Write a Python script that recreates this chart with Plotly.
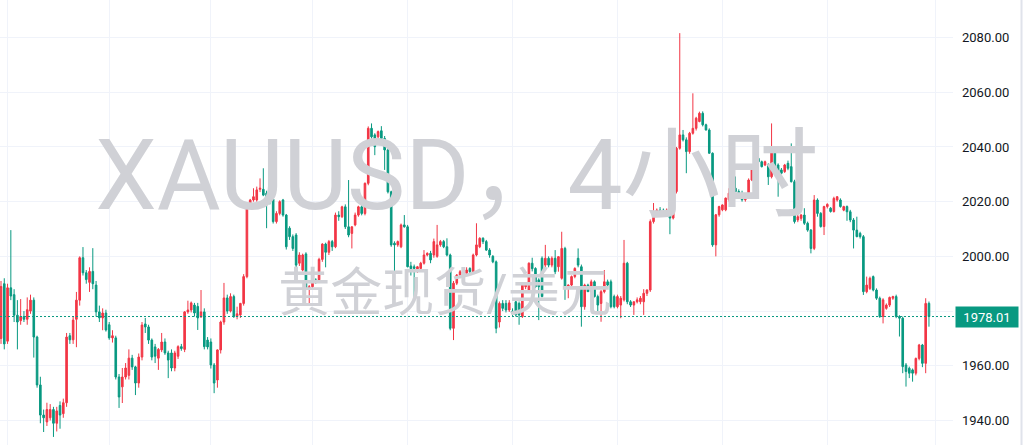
import plotly.graph_objects as go

# ---------------- data (XAUUSD 4h candles) ----------------
open_ = [
    1970, 1990, 1969, 1988.5, 1986, 1978.5, 1976.5, 1978, 1977, 1980,
    1984, 1970.5, 1953, 1942, 1939.5, 1941, 1944, 1939, 1945.5, 1942.5,
    1946.5, 1971, 1969.5, 1977, 1984, 1999.5, 1994, 1990.5, 1994.5, 1989.5,
    1979.7, 1977.5, 1979.3, 1975, 1970.2, 1970.2, 1955.9, 1952.3, 1955.9, 1956.5,
    1962.8, 1959.6, 1953.7, 1963.2, 1975.3, 1974.2, 1969.4, 1966.9, 1962.8, 1965.8,
    1968.7, 1964.7, 1964.7, 1959.2, 1963.5, 1967, 1966, 1979.7, 1980.4, 1982.2,
    1981.7, 1977.9, 1979.7, 1969.4, 1968.7, 1960.3, 1954.8, 1965.8, 1976, 1984.8,
    1980, 1985.3, 1978, 1978.6, 1982.8, 1992.6, 2018.1, 2020.6, 2020.6, 2024.5,
    2024.5, 2023.1, 2021.8, 2020.9, 2012.7, 2015.7, 2020.6, 2015.1, 2010.3, 2007.2,
    2007.8, 1997.5, 1995, 2000.9, 1988.3, 1988.9, 1991.4, 1991.4, 1998.9, 2004.5,
    2001.5, 2005.4, 2003.5, 2015.1, 2014.5, 2018.1, 2010.8, 2008.4, 2011.5, 2015.1,
    2018.1, 2015.7, 2026.7, 2046.8, 2044.4, 2043.7, 2045.9, 2043.1, 2038.9, 2023.6,
    2004.8, 2004.2, 2003.5, 2011.5, 2010.8, 1996.5, 1996.2, 1995, 1995.6, 1997.5,
    2000.5, 2001.1, 2000.5, 2000, 2004.2, 2005.4, 2003.5, 2000.5, 1973.7, 1990.2,
    1993.2, 1994.4, 1993.8, 1995.6, 1994.4, 2000.5, 2003.5, 2006.6, 2005.4, 2002.3,
    2000, 1998, 1976, 1982.8, 1982.8, 1980.4, 1980, 1983.4, 1982.8, 1978,
    1988.9, 1987.7, 1997.5, 1995.6, 1991.4, 1999.3, 1996.8, 1999.3, 1996.8, 1999.3,
    1996.2, 1992, 2002.9, 1988.3, 1989.5, 1992.6, 1999.3, 1996.2, 1981.6, 1989.5,
    1987.1, 1990.7, 1985.3, 1982.8, 1987.1, 1990.7, 1990.7, 1985.3, 1981.6, 1982.2,
    1984.1, 1997.5, 1983.4, 1982.2, 1983.4, 1983.4, 1983.4, 1986.5, 1987.7, 2012.7,
    2016.2, 2016.9, 2016.9, 2015.1, 2016.9, 2014, 2023.7, 2039.5, 2044.4, 2042.6,
    2038.3, 2045, 2046.8, 2049.3, 2052.3, 2048.1, 2046.2, 2037.7, 2004.2, 2015.2,
    2017, 2017, 2020.7, 2023.1, 2024.9, 2023.7, 2023.1, 2020.7, 2022.4, 2027.9,
    2032.8, 2035.8, 2034.6, 2033.4, 2033.4, 2029.1, 2038.3, 2033.4, 2031.6, 2031,
    2034, 2032.8, 2027.3, 2013.3, 2013.9, 2015.1, 2012.1, 2009.6, 2002.9, 2020.6,
    2015.7, 2010.9, 2018.2, 2017.6, 2016.4, 2020.6, 2020.6, 2016.9, 2018.2, 2016.3,
    2013.3, 2009.6, 2008.4, 2007.2, 1987.1, 1988.3, 1992.6, 1987.7, 1984.7, 1978,
    1981, 1982.2, 1984.7, 1985.3, 1978, 1977.4, 1960.3, 1959.1, 1958.5, 1957.3,
    1962.7, 1967.6, 1960.9, 1982.8,
]
high = [
    1991, 1992, 1990, 2009.6, 1988, 1984, 1984.4, 1980, 1985, 1986,
    1985, 1971, 1956, 1944, 1946.5, 1946, 1945, 1945, 1947, 1948,
    1972, 1972, 1978, 1987, 2000, 2003.4, 1995, 1996, 2003, 1991,
    1982, 1981, 1980.5, 1976, 1973, 1971, 1957, 1959.2, 1961, 1966,
    1964, 1960, 1964.5, 1976, 1977.5, 1975, 1970, 1968, 1966.5, 1972,
    1970, 1965.5, 1966, 1965.5, 1967.5, 1968, 1980, 1983.8, 1983.5, 1983,
    1983, 1987.7, 1981, 1970.5, 1970, 1961, 1966, 1976.5, 1990.3, 1986,
    1986.5, 1986, 1981.6, 1983, 1993.5, 2018.5, 2021, 2024.9, 2025.5, 2028.5,
    2032.2, 2024, 2022.5, 2021.5, 2016.5, 2020.5, 2021, 2015.5, 2011, 2008,
    2008.5, 2001.5, 2001, 2001.5, 1989.5, 1992, 1992, 1999.5, 2004.8, 2005,
    2006, 2006, 2016, 2016.5, 2018.5, 2019, 2027.9, 2011, 2016, 2018.5,
    2019, 2027, 2047.5, 2048.6, 2045, 2046, 2047.6, 2044, 2039.5, 2024,
    2005.5, 2005.8, 2012, 2015.1, 2011.5, 1998, 1997, 1996.5, 1998, 2002.3,
    2001.5, 2002, 2006.5, 2011.5, 2006, 2006, 2006.6, 2001, 1991, 1993.5,
    1995, 1995.5, 1996, 1996, 2001, 2012.1, 2007, 2007, 2006, 2003,
    2000.5, 1998.5, 1983.5, 1984, 1984, 1984, 1981, 1984, 1983.5, 1990,
    1990, 1997.8, 1999.5, 1996, 1992, 2000, 2004.2, 2000, 2000, 2002.3,
    2000, 2009, 2003.5, 1989.8, 1993, 1996, 2002.9, 1997, 1990, 1990,
    1991.5, 1991.2, 1986, 1987.7, 1995, 1991.5, 1991.5, 1986, 1986, 1985.5,
    2006, 1998, 1984, 1983.5, 1985, 1985.5, 1988, 1988, 2013.5, 2019.5,
    2017.5, 2018, 2017.5, 2017.5, 2017.5, 2024.5, 2040, 2081.6, 2046.2, 2043.5,
    2045.5, 2059.6, 2051, 2052.9, 2053, 2048.5, 2046.8, 2038, 2015.5, 2018.5,
    2019, 2021.5, 2024.9, 2025.5, 2029.2, 2024.5, 2024, 2023, 2028.5, 2033.3,
    2036.2, 2038.3, 2035, 2035, 2034, 2048.6, 2039, 2034, 2032.3, 2033.8,
    2035, 2041.3, 2028, 2021.8, 2015.5, 2017.6, 2012.7, 2010, 2022.4, 2021.2,
    2016.2, 2018.5, 2019.4, 2018, 2021.8, 2022, 2021.2, 2018.5, 2018.6, 2017,
    2014, 2014.5, 2009, 2007.8, 1992.6, 1992.6, 1993, 1988.3, 1985.3, 1984.7,
    1982.8, 1985.3, 1985.6, 1986, 1978.5, 1978, 1961, 1959.7, 1959, 1963,
    1968, 1968, 1984.7, 1983.5,
]
low = [
    1968, 1966, 1968, 1984, 1976, 1966, 1975, 1976, 1975, 1979,
    1963, 1952, 1939, 1935.8, 1938, 1940, 1934, 1936, 1937, 1941,
    1945, 1968, 1968, 1966.8, 1982, 1993, 1990, 1987, 1988, 1978,
    1976, 1973, 1972.5, 1969.5, 1968.5, 1955, 1944.6, 1946.4, 1955, 1955,
    1958.5, 1949.3, 1952, 1962, 1972, 1968, 1962, 1961, 1958.5, 1965,
    1964, 1955.5, 1958, 1958, 1962.5, 1965.5, 1965, 1979, 1979.5, 1978,
    1973.1, 1977.5, 1966, 1966, 1959, 1950, 1952, 1964.5, 1975, 1979,
    1979.5, 1977.5, 1977, 1977.5, 1982, 1992, 2017.5, 2020, 2020, 2023.5,
    2022, 2010.3, 2019, 2012, 2012, 2015, 2014.5, 2002.5, 2006, 2002,
    1996, 1996.5, 1994.5, 1988, 1982.2, 1988, 1990, 1990.5, 1998, 1996,
    2000.5, 2002, 2003, 2013, 2014, 2010, 2007, 2002.9, 2011, 2014.5,
    2015, 2015, 2026, 2043, 2037, 2043, 2042.5, 2031.6, 2023, 2003.5,
    1992.6, 2003.5, 2003, 2010.5, 1996, 1993, 1984.7, 1994, 1995, 1997,
    2000, 1997.5, 1999.5, 1999.5, 2003.5, 2003, 2000, 1973, 1969.4, 1989.5,
    1992.5, 1993, 1993, 1993.5, 1994, 2000, 2003, 2004.5, 2002, 1999.5,
    1997.5, 1971.9, 1974, 1980, 1979.5, 1979.7, 1978, 1978, 1975, 1977.5,
    1988, 1987, 1994.5, 1988.5, 1976.7, 1985, 1996, 1996, 1996, 1993.5,
    1994.4, 1991.5, 1984.1, 1984.7, 1989, 1992, 1996, 1974.3, 1980.5, 1987,
    1986.5, 1985, 1979.7, 1976.1, 1986.5, 1988.5, 1981, 1981, 1981, 1977.4,
    1983.5, 1982.5, 1981.5, 1978.6, 1982.8, 1982.5, 1978.6, 1985.5, 1987, 2012,
    2015.5, 2015, 2014.5, 2014.5, 2008.1, 2013.5, 2023, 2039, 2042, 2030.4,
    2037.5, 2044.5, 2046, 2049, 2047.5, 2046, 2037.5, 2003.5, 2000, 2014.5,
    2016.5, 2016.5, 2020, 2022.5, 2023.5, 2021, 2020, 2020, 2022, 2027.5,
    2032.3, 2034, 2032.5, 2033, 2026.1, 2028.5, 2031.5, 2021.8, 2030, 2030.5,
    2031.5, 2027, 2012, 2012.5, 2013, 2011.5, 2009, 2001.1, 2002.3, 2014.5,
    2010.5, 2007.8, 2017.5, 2016, 2016, 2020, 2017.8, 2016.5, 2013, 2012.5,
    2002.9, 2007, 2006.5, 1985.9, 1986.5, 1987.7, 1987.2, 1984.1, 1977.5, 1975.5,
    1980.5, 1981.5, 1984.1, 1977.4, 1970.7, 1957.3, 1952.4, 1955.5, 1954.2, 1956.5,
    1962, 1959.5, 1957.3, 1974.3,
]
close = [
    1989, 1968, 1988.5, 1985.5, 1978.5, 1976, 1978, 1977, 1980.5, 1984,
    1970.5, 1953, 1942, 1941, 1944, 1944, 1939, 1943.5, 1942, 1946.5,
    1970.5, 1969.5, 1976.7, 1984, 1999.5, 1994, 1991.5, 1994.5, 1990, 1979.7,
    1977.5, 1979.3, 1973.1, 1970.2, 1971, 1955.9, 1948.6, 1955.9, 1959.2, 1962.8,
    1959.6, 1953.7, 1963.2, 1974.9, 1974.2, 1969.4, 1963.2, 1963.5, 1966, 1968.7,
    1964.7, 1962.1, 1959.2, 1964.7, 1967, 1966.3, 1979.7, 1980.4, 1983, 1979.3,
    1977.5, 1979.7, 1967, 1966.9, 1960.3, 1953.7, 1965.8, 1976, 1984.8, 1980,
    1985.3, 1978, 1979, 1982.8, 1992.6, 2018.1, 2020.6, 2021.8, 2024.3, 2024.9,
    2022.4, 2021.2, 2020.6, 2012.7, 2015.7, 2020, 2015.1, 2003.5, 2007.2, 2002.9,
    1996.8, 2000.5, 2000.5, 1988.3, 1988.9, 1991.4, 1990.8, 1998.9, 2004.5, 2001.5,
    2005.4, 2003.5, 2015.1, 2014.5, 2018.1, 2010.8, 2007.8, 2010.8, 2015.1, 2018.1,
    2015.7, 2026.7, 2046.8, 2043.7, 2040.1, 2045.6, 2043.1, 2038.9, 2023.6, 2004.2,
    2004.2, 2005.4, 2011.5, 2010.8, 1996.2, 1995.5, 1995.6, 1996.2, 1997.5, 2000.5,
    2001.1, 1998.7, 2005.4, 2004.2, 2005.4, 2003.5, 2000.5, 1973.7, 1990.2, 1993.2,
    1994.4, 1993.8, 1995, 1994.4, 2000.5, 2004.2, 2006.6, 2005.4, 2002.3, 2000.5,
    1998, 1973.7, 1982.8, 1981, 1980.4, 1983, 1979, 1978.6, 1978.6, 1989.5,
    1989.5, 1997.5, 1995.5, 1988.9, 1988.9, 1985.3, 1999.3, 1996.8, 1999.3, 1994.4,
    1999.9, 2002.9, 1988.3, 1989.5, 1992.6, 1995.6, 1996.8, 1981.6, 1989.5, 1987.1,
    1990.7, 1985.3, 1982.2, 1987.1, 1990.7, 1989.5, 1981.6, 1981.6, 1985.3, 1984.7,
    1997.5, 1983.4, 1982.2, 1983.4, 1984.1, 1984.7, 1986.5, 1987.7, 2012.7, 2016.2,
    2016.9, 2015.3, 2015.1, 2016.9, 2014, 2023.7, 2039.5, 2044.4, 2042.6, 2038.3,
    2045, 2046.8, 2050.5, 2052.3, 2048.1, 2046.2, 2037.7, 2004.2, 2015.2, 2018.2,
    2018.8, 2021.3, 2023.1, 2024.9, 2023.7, 2021.3, 2020.7, 2022.4, 2027.9, 2032.8,
    2035.8, 2034.6, 2032.8, 2034.6, 2029.1, 2038.3, 2032.2, 2030.4, 2030.4, 2033.4,
    2032.2, 2027.3, 2012.7, 2014.5, 2015.1, 2012.1, 2009.6, 2002.9, 2020.6, 2015.7,
    2010.9, 2018.2, 2019, 2016.4, 2021.2, 2021.8, 2018.2, 2018.2, 2016.3, 2013.3,
    2009.6, 2007.2, 2007.2, 1987.1, 1989.5, 1992, 1987.7, 1984.7, 1978, 1984.1,
    1982.2, 1985, 1985.3, 1978, 1977.4, 1959.7, 1957.9, 1957.3, 1957.3, 1962.7,
    1967.6, 1960.9, 1982.8, 1978.01,
]

y_ticks = [1940, 1960, 1980, 2000, 2020, 2040, 2060, 2080]
y_tick_labels = ["1940.00", "1960.00", "1980.00", "2000.00", "2020.00", "2040.00", "2060.00", "2080.00"]
grid_x = [2, 33, 64, 95, 124, 156, 188, 220, 252, 285]   # candle indices of vertical grid lines
last_price = 1978.01
last_price_label = "1978.01"
watermark = ["XAUUSD，4小时", "黄金现货/美元"]

# ---------------- style ----------------
UP = "#F23645"      # rising candles (red, Chinese convention)
DOWN = "#089981"    # falling candles (green)
GRID = "#f0f3fa"
WM_COLOR = "#d0d1d6"
X_RANGE = [-0.305, 290.33]
Y_RANGE = [1931.05, 2093.71]

idx = list(range(len(close)))

# watermark placed in paper fractions, converted to data coordinates
wm_fx = [0.4795, 0.467]
wm_fy = [0.586, 0.33]
wm_x = [X_RANGE[0] + f * (X_RANGE[1] - X_RANGE[0]) for f in wm_fx]
wm_y = [Y_RANGE[0] + f * (Y_RANGE[1] - Y_RANGE[0]) for f in wm_fy]

fig = go.Figure()
fig.add_trace(go.Scatter(
    x=wm_x, y=wm_y, mode="text", text=watermark,
    textposition="middle center",
    textfont=dict(family="Roboto, 'Noto Sans CJK SC', sans-serif", size=[98, 52], color=WM_COLOR),
    hoverinfo="skip", showlegend=False, cliponaxis=False,
))
fig.add_trace(go.Candlestick(
    x=idx, open=open_, high=high, low=low, close=close,
    increasing=dict(line=dict(color=UP, width=1), fillcolor=UP),
    decreasing=dict(line=dict(color=DOWN, width=1), fillcolor=DOWN),
    whiskerwidth=0, hoverinfo="skip", showlegend=False,
))

fig.update_layout(
    width=1024, height=445,
    margin=dict(l=0, r=71, t=0, b=0),
    paper_bgcolor="white", plot_bgcolor="white",
    showlegend=False, hovermode=False,
    xaxis=dict(
        range=X_RANGE, rangeslider=dict(visible=False),
        showticklabels=False, tickmode="array", tickvals=grid_x,
        showgrid=True, gridcolor=GRID, gridwidth=1,
        zeroline=False, showline=False, ticks="", fixedrange=True,
    ),
    yaxis=dict(
        side="right", range=Y_RANGE, tickmode="array",
        tickvals=y_ticks, ticktext=y_tick_labels,
        showgrid=True, gridcolor=GRID, gridwidth=1,
        zeroline=False, showline=False, ticks="",
        tickfont=dict(family="Roboto, sans-serif", size=13, color="#131722"),
        ticklabelstandoff=8, automargin=False, fixedrange=True,
    ),
    shapes=[
        dict(type="line", xref="paper", yref="y", x0=0, x1=1.003,
             y0=last_price, y1=last_price,
             line=dict(color=DOWN, width=1, dash="2px,2px")),
        dict(type="line", xref="paper", yref="paper", x0=1.0719, x1=1.0719,
             y0=0, y1=1, line=dict(color="#e0e3eb", width=2)),
    ],
    annotations=[
        dict(xref="paper", yref="y", x=1.0, y=last_price, xanchor="left", yanchor="middle",
             xshift=2, text=last_price_label, showarrow=False,
             font=dict(family="Roboto, sans-serif", size=13, color="white"),
             bgcolor=DOWN, borderpad=0, width=62, height=20),
    ],
)

fig.write_html(
    "out.html",
    config={"displayModeBar": False, "staticPlot": True},
    post_script="document.body.style.margin='0';document.body.style.padding='0';document.body.style.overflow='hidden';",
)
